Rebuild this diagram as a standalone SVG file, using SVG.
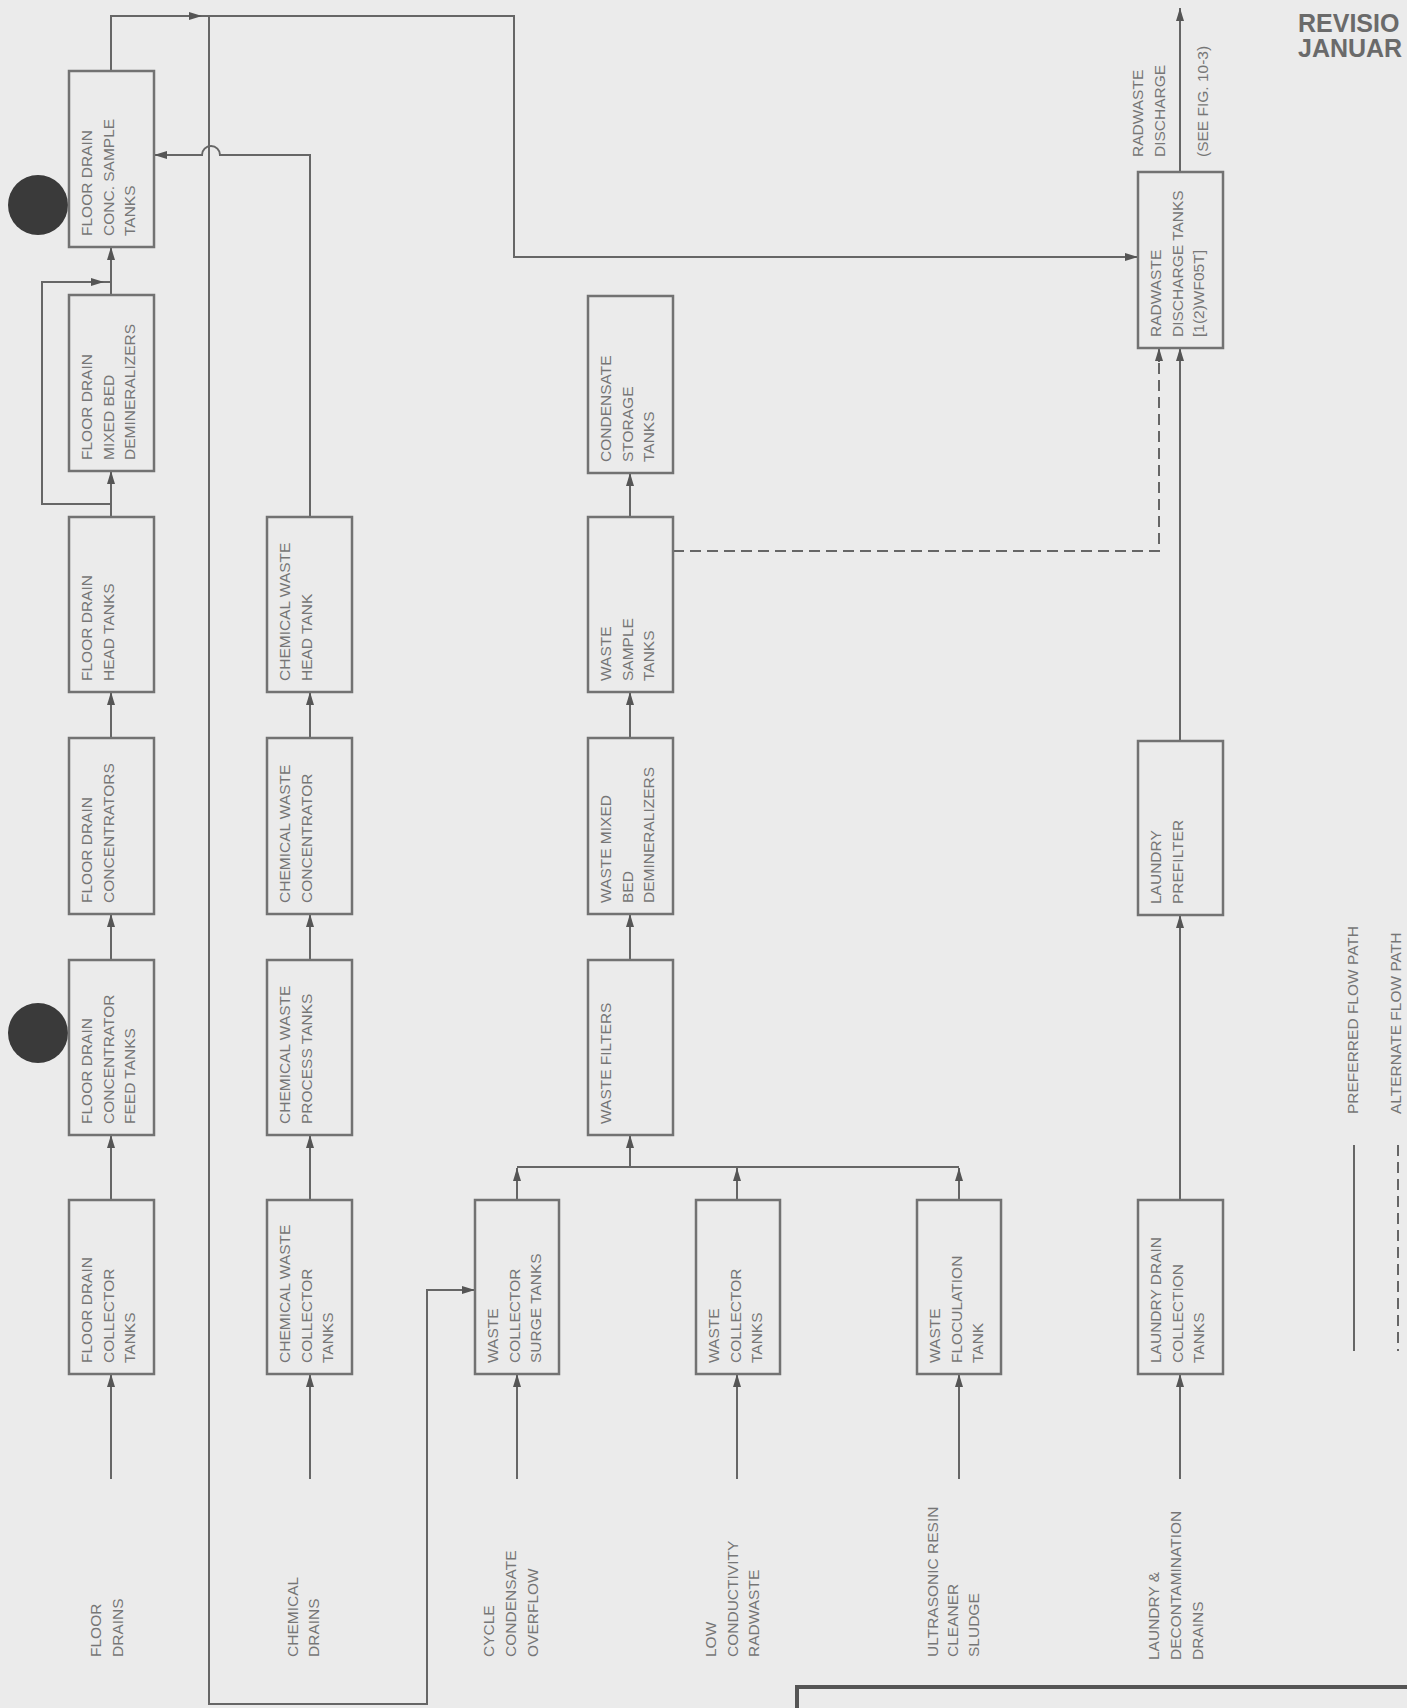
<svg xmlns="http://www.w3.org/2000/svg" width="1407" height="1708" viewBox="0 0 1407 1708">
<defs>
<marker id="ah" markerUnits="userSpaceOnUse" markerWidth="14" markerHeight="10" refX="13" refY="5" orient="auto">
<path d="M0,1 L13,5 L0,9 Z" fill="#555"/>
</marker>
<style>
.bx{fill:none;stroke:#727272;stroke-width:2.5}
.t{font-family:"Liberation Sans",Arial,sans-serif;font-size:15.5px;fill:#767676}
.ln{fill:none;stroke:#666;stroke-width:2}
.ar{fill:none;stroke:#666;stroke-width:2;marker-end:url(#ah)}
.da{fill:none;stroke:#666;stroke-width:2;stroke-dasharray:11 6}
.rev{font-family:"Liberation Sans",Arial,sans-serif;font-size:25px;font-weight:bold;fill:#6a6a6a}
</style>
</defs>
<rect x="0" y="0" width="1407" height="1708" fill="#ebebeb"/>

<g id="connectors">
<!-- floor drain chain -->
<path class="ar" d="M111 1479 V1374"/>
<path class="ar" d="M111 1200 V1135"/>
<path class="ar" d="M111 960 V914"/>
<path class="ar" d="M111 738 V692"/>
<path class="ar" d="M111 517 V471"/>
<path class="ar" d="M111 295 V247"/>
<path class="ar" d="M111 504 H42 V282 H104"/>
<path class="ln" d="M104 282 H111"/>
<path class="ar" d="M111 71 V16 H202"/>
<path class="ar" d="M202 16 H514 V257 H1138"/>
<!-- recycle path -->
<path class="ar" d="M209 16 V1704 H427 V1290 H475"/>
<!-- chemical waste chain -->
<path class="ar" d="M310 1479 V1374"/>
<path class="ar" d="M310 1200 V1135"/>
<path class="ar" d="M310 960 V914"/>
<path class="ar" d="M310 738 V692"/>
<path class="ar" d="M310 517 V155 H220 A9 9 0 0 0 202 155 H154"/>
<!-- waste chain -->
<path class="ar" d="M517 1479 V1374"/>
<path class="ar" d="M737 1479 V1374"/>
<path class="ar" d="M959 1479 V1374"/>
<path class="ar" d="M517 1200 V1168"/>
<path class="ar" d="M737 1200 V1168"/>
<path class="ar" d="M959 1200 V1168"/>
<path class="ln" d="M517 1167 H959"/>
<path class="ar" d="M630 1167 V1135"/>
<path class="ar" d="M630 960 V914"/>
<path class="ar" d="M630 738 V692"/>
<path class="ar" d="M630 517 V473"/>
<path class="da" d="M673 551 H1159 V362"/>
<path class="ar" d="M1159 362 V348"/>
<!-- laundry chain -->
<path class="ar" d="M1180 1479 V1374"/>
<path class="ar" d="M1180 1200 V915"/>
<path class="ar" d="M1180 741 V348"/>
<path class="ar" d="M1180 172 V8"/>
</g>

<g id="dot-1"><circle cx="38" cy="205" r="30" fill="#3a3a3a"/></g>
<g id="dot-2"><circle cx="38" cy="1033" r="30" fill="#3a3a3a"/></g>

<g id="fd-sample"><rect class="bx" x="69" y="71" width="85" height="176"/>
<text class="t" transform="translate(92,236) rotate(-90)"><tspan x="0" y="0">FLOOR DRAIN</tspan><tspan x="0" y="21.5">CONC. SAMPLE</tspan><tspan x="0" y="43">TANKS</tspan></text></g>
<g id="fd-demin"><rect class="bx" x="69" y="295" width="85" height="176"/>
<text class="t" transform="translate(92,460) rotate(-90)"><tspan x="0" y="0">FLOOR DRAIN</tspan><tspan x="0" y="21.5">MIXED BED</tspan><tspan x="0" y="43">DEMINERALIZERS</tspan></text></g>
<g id="fd-head"><rect class="bx" x="69" y="517" width="85" height="175"/>
<text class="t" transform="translate(92,681) rotate(-90)"><tspan x="0" y="0">FLOOR DRAIN</tspan><tspan x="0" y="21.5">HEAD TANKS</tspan></text></g>
<g id="fd-conc"><rect class="bx" x="69" y="738" width="85" height="176"/>
<text class="t" transform="translate(92,903) rotate(-90)"><tspan x="0" y="0">FLOOR DRAIN</tspan><tspan x="0" y="21.5">CONCENTRATORS</tspan></text></g>
<g id="fd-feed"><rect class="bx" x="69" y="960" width="85" height="175"/>
<text class="t" transform="translate(92,1124) rotate(-90)"><tspan x="0" y="0">FLOOR DRAIN</tspan><tspan x="0" y="21.5">CONCENTRATOR</tspan><tspan x="0" y="43">FEED TANKS</tspan></text></g>
<g id="fd-coll"><rect class="bx" x="69" y="1200" width="85" height="174"/>
<text class="t" transform="translate(92,1363) rotate(-90)"><tspan x="0" y="0">FLOOR DRAIN</tspan><tspan x="0" y="21.5">COLLECTOR</tspan><tspan x="0" y="43">TANKS</tspan></text></g>

<g id="cw-head"><rect class="bx" x="267" y="517" width="85" height="175"/>
<text class="t" transform="translate(290,681) rotate(-90)"><tspan x="0" y="0">CHEMICAL WASTE</tspan><tspan x="0" y="21.5">HEAD TANK</tspan></text></g>
<g id="cw-conc"><rect class="bx" x="267" y="738" width="85" height="176"/>
<text class="t" transform="translate(290,903) rotate(-90)"><tspan x="0" y="0">CHEMICAL WASTE</tspan><tspan x="0" y="21.5">CONCENTRATOR</tspan></text></g>
<g id="cw-proc"><rect class="bx" x="267" y="960" width="85" height="175"/>
<text class="t" transform="translate(290,1124) rotate(-90)"><tspan x="0" y="0">CHEMICAL WASTE</tspan><tspan x="0" y="21.5">PROCESS TANKS</tspan></text></g>
<g id="cw-coll"><rect class="bx" x="267" y="1200" width="85" height="174"/>
<text class="t" transform="translate(290,1363) rotate(-90)"><tspan x="0" y="0">CHEMICAL WASTE</tspan><tspan x="0" y="21.5">COLLECTOR</tspan><tspan x="0" y="43">TANKS</tspan></text></g>

<g id="cond-storage"><rect class="bx" x="588" y="296" width="85" height="177"/>
<text class="t" transform="translate(611,462) rotate(-90)"><tspan x="0" y="0">CONDENSATE</tspan><tspan x="0" y="21.5">STORAGE</tspan><tspan x="0" y="43">TANKS</tspan></text></g>
<g id="w-sample"><rect class="bx" x="588" y="517" width="85" height="175"/>
<text class="t" transform="translate(611,681) rotate(-90)"><tspan x="0" y="0">WASTE</tspan><tspan x="0" y="21.5">SAMPLE</tspan><tspan x="0" y="43">TANKS</tspan></text></g>
<g id="w-mixed"><rect class="bx" x="588" y="738" width="85" height="176"/>
<text class="t" transform="translate(611,903) rotate(-90)"><tspan x="0" y="0">WASTE MIXED</tspan><tspan x="0" y="21.5">BED</tspan><tspan x="0" y="43">DEMINERALIZERS</tspan></text></g>
<g id="w-filters"><rect class="bx" x="588" y="960" width="85" height="175"/>
<text class="t" transform="translate(611,1124) rotate(-90)"><tspan x="0" y="0">WASTE FILTERS</tspan></text></g>

<g id="w-surge"><rect class="bx" x="475" y="1200" width="84" height="174"/>
<text class="t" transform="translate(498,1363) rotate(-90)"><tspan x="0" y="0">WASTE</tspan><tspan x="0" y="21.5">COLLECTOR</tspan><tspan x="0" y="43">SURGE TANKS</tspan></text></g>
<g id="w-coll"><rect class="bx" x="696" y="1200" width="84" height="174"/>
<text class="t" transform="translate(719,1363) rotate(-90)"><tspan x="0" y="0">WASTE</tspan><tspan x="0" y="21.5">COLLECTOR</tspan><tspan x="0" y="43">TANKS</tspan></text></g>
<g id="w-floc"><rect class="bx" x="917" y="1200" width="84" height="174"/>
<text class="t" transform="translate(940,1363) rotate(-90)"><tspan x="0" y="0">WASTE</tspan><tspan x="0" y="21.5">FLOCULATION</tspan><tspan x="0" y="43">TANK</tspan></text></g>

<g id="l-coll"><rect class="bx" x="1138" y="1200" width="85" height="174"/>
<text class="t" transform="translate(1161,1363) rotate(-90)"><tspan x="0" y="0">LAUNDRY DRAIN</tspan><tspan x="0" y="21.5">COLLECTION</tspan><tspan x="0" y="43">TANKS</tspan></text></g>
<g id="l-prefilter"><rect class="bx" x="1138" y="741" width="85" height="174"/>
<text class="t" transform="translate(1161,904) rotate(-90)"><tspan x="0" y="0">LAUNDRY</tspan><tspan x="0" y="21.5">PREFILTER</tspan></text></g>
<g id="radwaste"><rect class="bx" x="1138" y="172" width="85" height="176"/>
<text class="t" transform="translate(1161,337) rotate(-90)"><tspan x="0" y="0">RADWASTE</tspan><tspan x="0" y="21.5">DISCHARGE TANKS</tspan><tspan x="0" y="43">[1(2)WF05T]</tspan></text></g>

<g id="labels">
<text class="t" transform="translate(100.5,1657) rotate(-90)"><tspan x="0" y="0">FLOOR</tspan><tspan x="0" y="22">DRAINS</tspan></text>
<text class="t" transform="translate(297.5,1657) rotate(-90)"><tspan x="0" y="0">CHEMICAL</tspan><tspan x="0" y="21">DRAINS</tspan></text>
<text class="t" transform="translate(493.5,1657) rotate(-90)"><tspan x="0" y="0">CYCLE</tspan><tspan x="0" y="22">CONDENSATE</tspan><tspan x="0" y="44">OVERFLOW</tspan></text>
<text class="t" transform="translate(715.5,1657) rotate(-90)"><tspan x="0" y="0">LOW</tspan><tspan x="0" y="22">CONDUCTIVITY</tspan><tspan x="0" y="43">RADWASTE</tspan></text>
<text class="t" transform="translate(937.5,1657) rotate(-90)"><tspan x="0" y="0">ULTRASONIC RESIN</tspan><tspan x="0" y="20">CLEANER</tspan><tspan x="0" y="41">SLUDGE</tspan></text>
<text class="t" transform="translate(1158.5,1660) rotate(-90)"><tspan x="0" y="0">LAUNDRY &amp;</tspan><tspan x="0" y="22">DECONTAMINATION</tspan><tspan x="0" y="44">DRAINS</tspan></text>
<text class="t" transform="translate(1142.5,157) rotate(-90)"><tspan x="0" y="0">RADWASTE</tspan><tspan x="0" y="22">DISCHARGE</tspan></text>
<text class="t" transform="translate(1207.5,157) rotate(-90)">(SEE FIG. 10-3)</text>
</g>

<g id="legend">
<path class="ln" d="M1354 1145 V1351"/>
<path class="da" d="M1398 1145 V1351"/>
<text class="t" transform="translate(1357.5,1114) rotate(-90)">PREFERRED FLOW PATH</text>
<text class="t" transform="translate(1400.5,1114) rotate(-90)">ALTERNATE FLOW PATH</text>
</g>

<g id="title">
<text class="rev" x="1298" y="32">REVISIO</text>
<text class="rev" x="1298" y="57">JANUAR</text>
</g>

<g id="border">
<path d="M797 1708 V1687 H1407" fill="none" stroke="#555" stroke-width="4"/>
</g>
</svg>
